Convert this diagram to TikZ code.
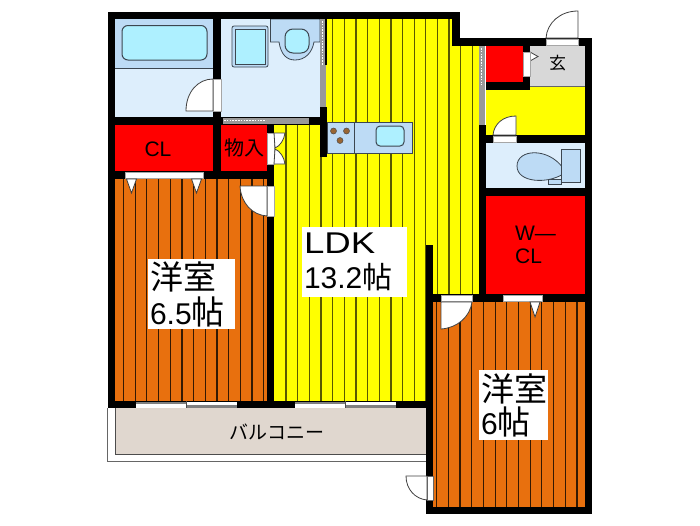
\documentclass[tikz,border=0pt]{standalone}
\usepackage{fontspec}
\setmainfont{Liberation Sans}
\newfontfamily\jp{Noto Sans CJK JP}
\definecolor{floorY}{HTML}{FFFF00}
\definecolor{floorO}{HTML}{E8700E}
\definecolor{closet}{HTML}{FF0000}
\definecolor{wetfloor}{HTML}{DDEEFC}
\definecolor{fixture}{HTML}{BDDBF5}
\definecolor{water}{HTML}{AEF0FF}
\definecolor{entry}{HTML}{D8D8D8}
\definecolor{deck}{HTML}{E0D7CF}
\definecolor{line}{HTML}{3C4650}

\begin{document}
\begin{tikzpicture}[x=1pt,y=-1pt]
    \tikzstyle{every node}=[font=\jp]
    \tikzstyle{wall}=[fill=black]
    \tikzstyle{item}=[fill=fixture,draw=line,line width=0.8pt]
    \tikzstyle{pool}=[fill=water,draw=line,line width=1pt,rounded corners=4pt]
    \tikzstyle{door}=[fill=white,draw=black!75,line width=0.8pt]
    \tikzstyle{slit}=[fill=white,draw=black!35,line width=0.5pt]
    \tikzstyle{rail}=[fill=black!40]
    \tikzstyle{dots}=[white,line width=1.6pt,dash pattern=on 1.6pt off 1.2pt]
    \tikzstyle{tag}=[fill=white,inner xsep=2pt,inner ysep=0pt,align=left]
    \useasboundingbox (0,0) rectangle (700,525);

    \fill[deck] (115,408) rectangle (426,454);
    \draw[black!60,line width=0.9pt] (107.5,408) -- (107.5,461.5) -- (426,461.5);
    \draw[black!70,line width=0.9pt] (115,408) -- (115,454) -- (426,454);

    \fill[floorO] (115,179) rectangle (267,401);
    \fill[floorO] (433,302) rectangle (585,507);
    \begin{scope}
        \clip (115,179) rectangle (267,401) (433,302) rectangle (585,507);
        \foreach \i in {0,...,12}
            \draw[black!78!floorO,line width=1.3pt] (123.5+11.67*\i,170) -- (123.5+11.67*\i,410);
        \foreach \i in {0,...,12}
            \draw[black!78!floorO,line width=1.3pt] (436.8+11.67*\i,295) -- (436.8+11.67*\i,515);
    \end{scope}

    \fill[floorY] (274,125) -- (320,125) -- (320,19) -- (452,19) -- (452,46) -- (479,46)
        -- (479,294) -- (427,294) -- (427,401) -- (274,401) -- cycle;
    \begin{scope}
        \clip (274,125) -- (320,125) -- (320,19) -- (452,19) -- (452,46) -- (479,46)
            -- (479,294) -- (427,294) -- (427,401) -- (274,401) -- cycle;
        \foreach \i in {0,...,16}
            \draw[black!65!floorY,line width=1.3pt] (286+11.65*\i,12) -- (286+11.65*\i,410);
    \end{scope}

    \fill[wetfloor] (115,19) rectangle (213,117);
    \fill[fixture] (115,19) rectangle (213,68);
    \draw[line,line width=0.7pt] (115,68) -- (213,68);
    \draw[pool,rounded corners=6pt] (122,25.5) rectangle (207,60);

    \fill[wetfloor] (221,19) rectangle (320,117);
    \draw[fill=fixture,draw=line,line width=0.8pt,rounded corners=2pt] (232,26) rectangle (268,67);
    \draw[fill=water,draw=line,line width=0.8pt] (235,29) rectangle (265.5,64);
    \draw[item] (270.5,19) -- (270.5,42) -- (279,42) .. controls (281,55) and (287,60) .. (295,60)
        .. controls (305,60) and (312,53) .. (314,42) -- (320,42) -- (320,19) -- cycle;
    \draw[pool,rounded corners=8pt] (285,29) rectangle (309,53);

    \fill[closet] (115,125) rectangle (213,171);
    \fill[closet] (221,125) rectangle (267,171);
    \fill[closet] (486,46) rectangle (523,82);
    \fill[closet] (486,196) rectangle (585,294);
    \fill[entry] (530,46) rectangle (585,86);
    \fill[floorY] (486,86) rectangle (585,135);
    \draw[black!60,line width=0.7pt] (530,86) -- (585,86);
    \fill[floorY] (486,82) rectangle (530,90);
    \fill[wetfloor] (486,143) rectangle (585,188);

    \fill[wall] (107.5,12) rectangle (460,19);
    \fill[wall] (107.5,12) rectangle (115,408);
    \fill[wall] (452,12) rectangle (460,46);
    \fill[wall] (452,38) rectangle (592,46);
    \fill[wall] (585,38) rectangle (592,514);
    \fill[wall] (213,19) rectangle (221,179);
    \fill[wall] (115,117) rectangle (327,125);
    \fill[wall] (320,107) rectangle (327,157);
    \fill[wall] (115,171) rectangle (274,179);
    \fill[wall] (267,125) rectangle (274,408);
    \fill[wall] (107.5,401) rectangle (433,408);
    \fill[wall] (426,245) rectangle (433,514);
    \fill[wall] (426,507) rectangle (592,514);
    \fill[wall] (479,125) rectangle (486,302);
    \fill[wall] (426,294) rectangle (592,302);
    \fill[wall] (479,135) rectangle (585,143);
    \fill[wall] (479,188) rectangle (585,196);
    \fill[wall] (523,46) rectangle (530,90);
    \fill[wall] (486,82) rectangle (530,90);

    \fill[rail] (320,19) rectangle (326,107);
    \fill[black] (325,19) rectangle (327,65);
    \draw[dots] (322.5,21) -- (322.5,65);
    \fill[rail] (479,46) rectangle (485,125);
    \draw[dots] (481.5,48) -- (481.5,85);
    \fill[rail] (223,118) rectangle (309,124);
    \draw[dots] (224,120.5) -- (266,120.5);

    \draw[slit] (125,172) rectangle (203,178);
    \draw[slit] (503,295) rectangle (542,301);
    \draw[slit] (441,295) rectangle (472,301);

    \draw[door] (131.5,193) -- (126.5,179) -- (136.5,179) -- cycle;
    \draw[door] (196.5,193) -- (191.5,179) -- (201.5,179) -- cycle;
    \draw[door] (535,317) -- (530,302) -- (540,302) -- cycle;
    \draw[door] (530,52) -- (538,56.5) -- (530,61) -- cycle;
    \draw[slit] (523.5,52) rectangle (530,76);

    \draw[slit] (213.5,79) rectangle (221,111);
    \draw[door] (186,111) .. controls (186,92) and (198,79) .. (213,79) -- (213,111) -- cycle;

    \draw[slit] (267,186) rectangle (274,216);
    \draw[door] (240,186) .. controls (241,203) and (252,215) .. (267,216) -- (267,186) -- cycle;

    \draw[slit] (267,133) rectangle (274,164);
    \draw[door] (274,133) -- (285,133) .. controls (284,140) and (280,146) .. (275,148) -- cycle;
    \draw[door] (274,164) -- (285,164) .. controls (284,157) and (280,151) .. (275,149) -- cycle;

    \draw[slit] (546,39) rectangle (578,45);
    \draw[door] (546,38) .. controls (547,23) and (560,11) .. (578,11) -- (578,38) -- cycle;

    \draw[slit] (493,136) rectangle (516,142);
    \draw[door] (493,135) .. controls (494,124) and (503,116) .. (516,116) -- (516,135) -- cycle;

    \draw[slit] (441,295) rectangle (472,301);
    \draw[door] (441,302) -- (441,329) .. controls (457,328) and (470,317) .. (472,302) -- cycle;

    \fill[white] (427,476) rectangle (433,500);
    \draw[black!60,line width=0.5pt] (427,476) rectangle (433,500);
    \draw[door,fill=white] (427,476) -- (406,476) .. controls (406,489) and (415,499) .. (427,500) -- cycle;

    \foreach \x in {136,295} {
        \fill[white] (\x,401.5) rectangle (\x+101,407.5);
        \fill[black!50] (\x,401.5) rectangle (\x+50,404);
        \fill[black!50] (\x+51,404.5) rectangle (\x+101,407.5);
        \draw[black!70,line width=0.7pt] (\x+50.5,401) -- (\x+50.5,408);
    }

    \draw[item] (327,122) rectangle (412,153);
    \draw[line,line width=0.7pt] (354,122) -- (354,153);
    \foreach \p in {{333.5,131},{346.5,131},{340,140.5}}
        \draw[fill=brown!80!black,draw=black!70,line width=0.5pt] (\p) circle (3pt);
    \draw[pool] (376,126) rectangle (404,146);

    \draw[item] (548,179) rectangle (561,184);
    \draw[item] (563,168) .. controls (548,147) and (517,149) .. (517,166)
        .. controls (517,183) and (548,184) .. (563,174) -- cycle;
    \draw[item] (561,149) rectangle (580,182);

    \node[tag,text width=83pt,minimum height=70pt,font=\jp\fontsize{33}{35}\selectfont] (room65) at (191.5,294)
        {洋室\\{\rmfamily\fontsize{30}{35}\selectfont 6.5}帖};
    \node[tag,text width=101pt,minimum height=70pt,font=\rmfamily\fontsize{30}{35}\selectfont] (ldk) at (354.5,262)
        {\scalebox{1.22}[1]{LDK}\\13.2{\jp 帖}};
    \node[tag,text width=65pt,minimum height=70pt,font=\jp\fontsize{33}{33}\selectfont] (room6) at (513.5,405)
        {洋室\\{\rmfamily\fontsize{30}{33}\selectfont 6}帖};
    \node[font=\rmfamily\fontsize{21}{22}\selectfont] (cl) at (158,149) {CL};
    \node[font=\jp\fontsize{20}{22}\selectfont,inner sep=0pt] (storage) at (244,148) {物入};
    \node[font=\rmfamily\fontsize{21}{23}\selectfont,align=left,inner sep=0pt] (wcl) at (535.5,245) {W—\\CL};
    \node[font=\jp\fontsize{17}{20}\selectfont,inner sep=0pt] (hall) at (557.5,63) {玄};
    \node[font=\jp\fontsize{19}{20}\selectfont,inner sep=0pt] (balcony) at (277,432) {バルコニー};
\end{tikzpicture}
\end{document}
